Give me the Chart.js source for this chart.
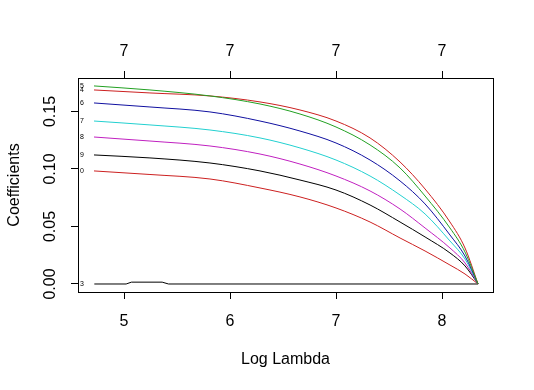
<!DOCTYPE html>
<html>
<head>
  <title>Coefficient Paths</title>
  <script src="https://cdn.jsdelivr.net/npm/chart.js"></script>
  <style>
    body { margin: 0; background: #fff; }
  </style>
</head>

<body>
<canvas id="pathChart" width="534" height="390"></canvas>

<script>
  // log lambda grid shared by the main paths
  const logLambda = [4.717, 5.245, 5.811, 6.283, 6.660, 7.000, 7.321, 7.604, 7.840, 8.075, 8.217, 8.340];

  const coef5 = [0.1722, 0.1687, 0.1635, 0.1565, 0.1478, 0.1365, 0.1209, 0.1009, 0.0765, 0.0487, 0.0278, 0];
  const coef4 = [0.1687, 0.1661, 0.1635, 0.1583, 0.1513, 0.1417, 0.1270, 0.1061, 0.0826, 0.0539, 0.0313, 0];
  const coef6 = [0.1574, 0.1539, 0.1496, 0.1417, 0.1330, 0.1226, 0.1078, 0.0896, 0.0696, 0.0426, 0.0243, 0];
  const coef7 = [0.1417, 0.1383, 0.1339, 0.1270, 0.1183, 0.1078, 0.0939, 0.0774, 0.0609, 0.0374, 0.0217, 0];
  const coef8 = [0.1278, 0.1243, 0.1200, 0.1130, 0.1043, 0.0939, 0.0809, 0.0652, 0.0487, 0.0313, 0.0183, 0];
  const coef9 = [0.1122, 0.1096, 0.1052, 0.0983, 0.0904, 0.0817, 0.0687, 0.0539, 0.0409, 0.0270, 0.0157, 0];
  const coef0 = [0.0983, 0.0952, 0.0913, 0.0835, 0.0757, 0.0661, 0.0539, 0.0400, 0.0287, 0.0165, 0.0087, 0];

  // variable 3 stays near zero, with a small bump
  const logLambda3 = [4.72, 5.02, 5.07, 5.36, 5.42, 8.34];
  const coef3 = [0, 0, 0.0016, 0.0016, 0, 0];

  const pathLabels = ['5', '4', '6', '7', '8', '9', '0', '3'];
  const xTicks = [5, 6, 7, 8];
  const topTickLabels = ['7', '7', '7', '7'];
  const yTicks = [0, 0.05, 0.10, 0.15];

  const pathColors = ['#22a022', '#cc2020', '#1010a0', '#22d0d0', '#c020c0', '#000000', '#cc2020', '#000000'];

  const pathValues = [coef5, coef4, coef6, coef7, coef8, coef9, coef0];

  function toPoints(xs, ys) {
    return xs.map((x, i) => ({x: x, y: ys[i]}));
  }

  const datasets = pathValues.map((vals, i) => ({
    label: pathLabels[i],
    data: toPoints(logLambda, vals),
    borderColor: pathColors[i],
    borderWidth: 1,
    pointRadius: 0,
    cubicInterpolationMode: 'monotone',
    fill: false
  }));
  datasets.push({
    label: pathLabels[7],
    data: toPoints(logLambda3, coef3),
    borderColor: pathColors[7],
    borderWidth: 1,
    pointRadius: 0,
    tension: 0,
    fill: false
  });

  const FONT = '16px "Liberation Sans", Arial, sans-serif';

  // box, rotated y labels, titles and path labels, R style
  const rDecor = {
    id: 'rDecor',
    afterDraw(chart) {
      const ctx = chart.ctx;
      const a = chart.chartArea;
      const xs = chart.scales.x;
      const ys = chart.scales.y;
      ctx.save();
      ctx.strokeStyle = '#000';
      ctx.lineWidth = 1;
      ctx.strokeRect(Math.round(a.left) + 0.5, Math.round(a.top) + 0.5,
        Math.round(a.right - a.left), Math.round(a.bottom - a.top));

      ctx.fillStyle = '#000';
      ctx.font = FONT;
      ctx.textAlign = 'center';
      ctx.textBaseline = 'alphabetic';
      xTicks.forEach((v, i) => {
        const px = xs.getPixelForValue(v);
        ctx.fillText(String(v), px, 326);
        ctx.fillText(topTickLabels[i], px, 56);
      });

      yTicks.forEach(v => {
        const py = ys.getPixelForValue(v);
        ctx.save();
        ctx.translate(55, py);
        ctx.rotate(-Math.PI / 2);
        ctx.fillText(v.toFixed(2), 0, 0);
        ctx.restore();
      });

      ctx.fillText('Log Lambda', (a.left + a.right) / 2, 364);
      ctx.save();
      ctx.translate(19, (a.top + a.bottom) / 2);
      ctx.rotate(-Math.PI / 2);
      ctx.fillText('Coefficients', 0, 0);
      ctx.restore();

      ctx.font = '7px "Liberation Sans", Arial, sans-serif';
      ctx.textAlign = 'left';
      ctx.textBaseline = 'middle';
      ctx.fillStyle = '#000';
      chart.data.datasets.forEach(ds => {
        const py = ys.getPixelForValue(ds.data[0].y);
        ctx.fillText(ds.label, a.left + 2, py);
      });
      ctx.restore();
    }
  };

  const tickGrid = {
    drawOnChartArea: false,
    drawTicks: true,
    tickLength: 7,
    color: '#000',
    lineWidth: 1
  };

  const ctx = document.getElementById('pathChart').getContext('2d');
  new Chart(ctx, {
    type: 'line',
    data: {datasets: datasets},
    options: {
      responsive: false,
      animation: false,
      devicePixelRatio: 1,
      layout: {padding: {left: 0, right: 41, top: 0, bottom: 0}},
      plugins: {legend: {display: false}, tooltip: {enabled: false}},
      scales: {
        x: {
          type: 'linear',
          position: 'bottom',
          min: 4.566,
          max: 8.481,
          grid: tickGrid,
          border: {display: false},
          ticks: {display: false},
          afterBuildTicks: s => { s.ticks = xTicks.map(v => ({value: v})); },
          afterFit: s => { s.height = 98; }
        },
        x2: {
          type: 'linear',
          position: 'top',
          min: 4.566,
          max: 8.481,
          grid: tickGrid,
          border: {display: false},
          ticks: {display: false},
          afterBuildTicks: s => { s.ticks = xTicks.map(v => ({value: v})); },
          afterFit: s => { s.height = 78; }
        },
        y: {
          type: 'linear',
          min: -0.00696,
          max: 0.1791,
          grid: tickGrid,
          border: {display: false},
          ticks: {display: false},
          afterBuildTicks: s => { s.ticks = yTicks.map(v => ({value: v})); },
          afterFit: s => { s.width = 78; }
        }
      }
    },
    plugins: [rDecor]
  });
</script>

</body>
</html>
